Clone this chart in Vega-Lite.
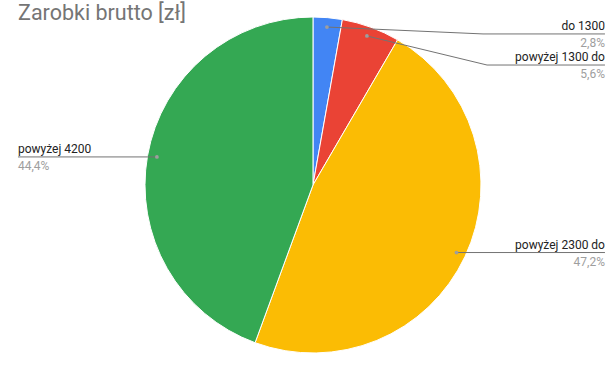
{
  "$schema": "https://vega.github.io/schema/vega-lite/v6.json",
  "width": 609,
  "height": 371,
  "autosize": "none",
  "padding": 0,
  "background": "white",
  "config": {"view": {"stroke": null}, "font": "Roboto"},
  "title": {
    "text": "Zarobki brutto [zł]",
    "anchor": "start",
    "orient": "top",
    "frame": "group",
    "offset": 0,
    "baseline": "alphabetic",
    "dx": 18,
    "dy": 41,
    "fontSize": 21.5,
    "fontWeight": "normal",
    "color": "#757575",
    "font": "Roboto"
  },
  "datasets": {
    "wycinki": [
      {"kategoria": "do 1300", "procent": 2.8, "kolej": 1},
      {"kategoria": "powyżej 1300 do", "procent": 5.6, "kolej": 2},
      {"kategoria": "powyżej 2300 do", "procent": 47.2, "kolej": 3},
      {"kategoria": "powyżej 4200", "procent": 44.4, "kolej": 4}
    ],
    "linie": [
      {"kategoria": "do 1300", "krok": 1, "x": 0.083, "y": 0.94},
      {"kategoria": "do 1300", "krok": 2, "x": 1.012, "y": 0.899},
      {"kategoria": "do 1300", "krok": 3, "x": 1.738, "y": 0.899},
      {"kategoria": "powyżej 1300 do", "krok": 1, "x": 0.321, "y": 0.887},
      {"kategoria": "powyżej 1300 do", "krok": 2, "x": 1.036, "y": 0.714},
      {"kategoria": "powyżej 1300 do", "krok": 3, "x": 1.738, "y": 0.714},
      {"kategoria": "powyżej 2300 do", "krok": 1, "x": 0.854, "y": -0.402},
      {"kategoria": "powyżej 2300 do", "krok": 2, "x": 1.738, "y": -0.402},
      {"kategoria": "powyżej 4200", "krok": 1, "x": -0.929, "y": 0.167},
      {"kategoria": "powyżej 4200", "krok": 2, "x": -1.756, "y": 0.167}
    ],
    "etykiety": [
      {"kategoria": "do 1300", "udzial": "2,8%", "x": 1.738, "y": 0.899},
      {"kategoria": "powyżej 1300 do", "udzial": "5,6%", "x": 1.738, "y": 0.714},
      {"kategoria": "powyżej 2300 do", "udzial": "47,2%", "x": 1.738, "y": -0.402},
      {"kategoria": "powyżej 4200", "udzial": "44,4%", "x": -1.756, "y": 0.167}
    ]
  },
  "resolve": {"scale": {"x": "shared", "y": "shared"}},
  "layer": [
    {
      "data": {"name": "wycinki"},
      "mark": {"type": "arc", "outerRadius": 168, "stroke": "white", "strokeWidth": 1},
      "encoding": {
        "theta": {"field": "procent", "type": "quantitative", "stack": true},
        "order": {"field": "kolej", "type": "quantitative"},
        "color": {
          "field": "kategoria",
          "type": "nominal",
          "scale": {
            "domain": ["do 1300", "powyżej 1300 do", "powyżej 2300 do", "powyżej 4200"],
            "range": ["#4285F4", "#EA4335", "#FBBC04", "#34A853"]
          },
          "legend": null
        },
        "x": {"datum": 0, "type": "quantitative", "scale": {"domain": [-1.863, 1.762], "nice": false, "zero": false}, "axis": null},
        "y": {"datum": 0, "type": "quantitative", "scale": {"domain": [-1.107, 1.101], "nice": false, "zero": false}, "axis": null}
      }
    },
    {
      "data": {"name": "linie"},
      "mark": {"type": "line", "color": "#737373", "strokeWidth": 1},
      "encoding": {
        "x": {"field": "x", "type": "quantitative"},
        "y": {"field": "y", "type": "quantitative"},
        "detail": {"field": "kategoria"},
        "order": {"field": "krok", "type": "quantitative"}
      }
    },
    {
      "data": {"name": "linie"},
      "transform": [{"filter": "datum.krok == 1"}],
      "mark": {"type": "point", "filled": true, "color": "#9e9e9e", "size": 14, "opacity": 1},
      "encoding": {
        "x": {"field": "x", "type": "quantitative"},
        "y": {"field": "y", "type": "quantitative"}
      }
    },
    {
      "data": {"name": "etykiety"},
      "transform": [{"filter": "datum.x > 0"}],
      "mark": {"type": "text", "align": "right", "baseline": "alphabetic", "dy": -4, "fontSize": 12, "color": "#222222", "font": "Roboto"},
      "encoding": {
        "x": {"field": "x", "type": "quantitative"},
        "y": {"field": "y", "type": "quantitative"},
        "text": {"field": "kategoria"}
      }
    },
    {
      "data": {"name": "etykiety"},
      "transform": [{"filter": "datum.x > 0"}],
      "mark": {"type": "text", "align": "right", "baseline": "alphabetic", "dy": 13, "fontSize": 12, "color": "#9e9e9e", "font": "Roboto"},
      "encoding": {
        "x": {"field": "x", "type": "quantitative"},
        "y": {"field": "y", "type": "quantitative"},
        "text": {"field": "udzial"}
      }
    },
    {
      "data": {"name": "etykiety"},
      "transform": [{"filter": "datum.x < 0"}],
      "mark": {"type": "text", "align": "left", "baseline": "alphabetic", "dy": -4, "fontSize": 12, "color": "#222222", "font": "Roboto"},
      "encoding": {
        "x": {"field": "x", "type": "quantitative"},
        "y": {"field": "y", "type": "quantitative"},
        "text": {"field": "kategoria"}
      }
    },
    {
      "data": {"name": "etykiety"},
      "transform": [{"filter": "datum.x < 0"}],
      "mark": {"type": "text", "align": "left", "baseline": "alphabetic", "dy": 13, "fontSize": 12, "color": "#9e9e9e", "font": "Roboto"},
      "encoding": {
        "x": {"field": "x", "type": "quantitative"},
        "y": {"field": "y", "type": "quantitative"},
        "text": {"field": "udzial"}
      }
    }
  ]
}
